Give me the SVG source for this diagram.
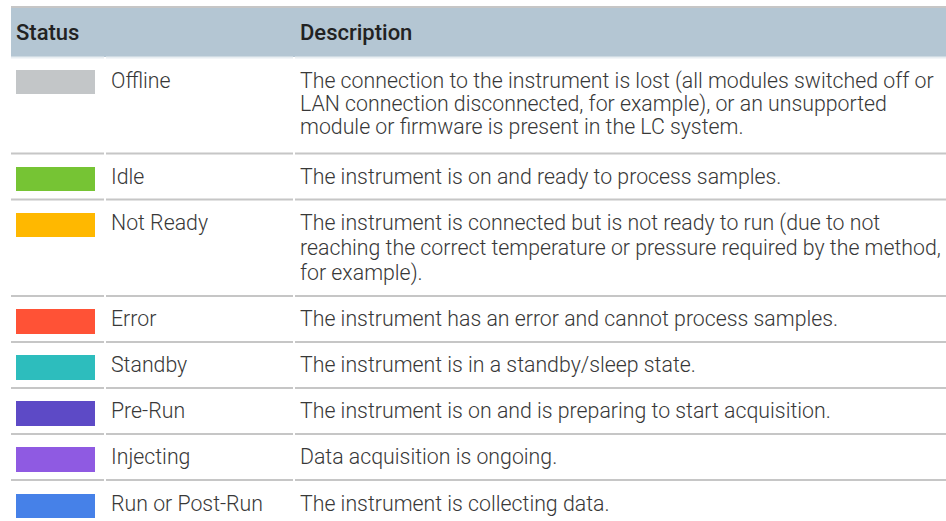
<svg xmlns="http://www.w3.org/2000/svg" width="946" height="521" viewBox="0 0 946 521">
<style>
.hd{font-family:Roboto,"Liberation Sans",sans-serif;font-weight:500;font-size:22px;fill:#222}
.tx{font-family:"Roboto Light",Roboto,"Liberation Sans",sans-serif;font-weight:300;font-size:21.3px;fill:#383838}
.ln{stroke:#c6c6c6;stroke-width:2}
</style>
<rect width="946" height="521" fill="#fff"/>
<g id="header">
<rect x="11" y="8" width="935" height="49" fill="#b4c6d3"/>
<line class="ln" x1="11" y1="7" x2="946" y2="7"/>
<text class="hd" x="16" y="40">Status</text>
<text class="hd" x="300" y="40">Description</text>
</g>
<g id="grid">
<g class="ln">
<path d="M11 57.5H104M106 57.5H293M295 57.5H946" stroke="#e8eef2"/>
<path d="M11 153.5H104M106 153.5H293M295 153.5H946"/>
<path d="M11 199.5H104M106 199.5H293M295 199.5H946"/>
<path d="M11 296H104M106 296H293M295 296H946"/>
<path d="M11 342H104M106 342H293M295 342H946"/>
<path d="M11 388H104M106 388H293M295 388H946"/>
<path d="M11 434H104M106 434H293M295 434H946"/>
<path d="M11 480H104M106 480H293M295 480H946"/>
</g>
</g>
<g id="row-offline">
<rect x="16" y="70" width="79" height="24" fill="#c3c6c8"/>
<text class="tx" x="111" y="88">Offline</text>
<text class="tx" x="300" y="88">The connection to the instrument is lost (all modules switched off or</text>
<text class="tx" x="300" y="111">LAN connection disconnected, for example), or an unsupported</text>
<text class="tx" x="300" y="134">module or firmware is present in the LC system.</text>
</g>
<g id="row-idle">
<rect x="16" y="167" width="79" height="24" fill="#76c434"/>
<text class="tx" x="111" y="184">Idle</text>
<text class="tx" x="300" y="184">The instrument is on and ready to process samples.</text>
</g>
<g id="row-notready">
<rect x="16" y="213" width="79" height="24" fill="#ffb800"/>
<text class="tx" x="111" y="230">Not Ready</text>
<text class="tx" x="300" y="230">The instrument is connected but is not ready to run (due to not</text>
<text class="tx" x="300" y="255">reaching the correct temperature or pressure required by the method,</text>
<text class="tx" x="300" y="280">for example).</text>
</g>
<g id="row-error">
<rect x="16" y="309" width="79" height="25" fill="#ff5236"/>
<text class="tx" x="111" y="326">Error</text>
<text class="tx" x="300" y="326">The instrument has an error and cannot process samples.</text>
</g>
<g id="row-standby">
<rect x="16" y="355" width="79" height="25" fill="#2dbdbd"/>
<text class="tx" x="111" y="372">Standby</text>
<text class="tx" x="300" y="372">The instrument is in a standby/sleep state.</text>
</g>
<g id="row-prerun">
<rect x="16" y="401" width="79" height="25" fill="#5d4ac6"/>
<text class="tx" x="111" y="418">Pre-Run</text>
<text class="tx" x="300" y="418">The instrument is on and is preparing to start acquisition.</text>
</g>
<g id="row-injecting">
<rect x="16" y="447" width="79" height="25" fill="#8f5ae2"/>
<text class="tx" x="111" y="464">Injecting</text>
<text class="tx" x="300" y="464">Data acquisition is ongoing.</text>
</g>
<g id="row-run">
<rect x="16" y="494" width="79" height="24" fill="#4681e8"/>
<text class="tx" x="111" y="511">Run or Post-Run</text>
<text class="tx" x="300" y="511">The instrument is collecting data.</text>
</g>
</svg>
